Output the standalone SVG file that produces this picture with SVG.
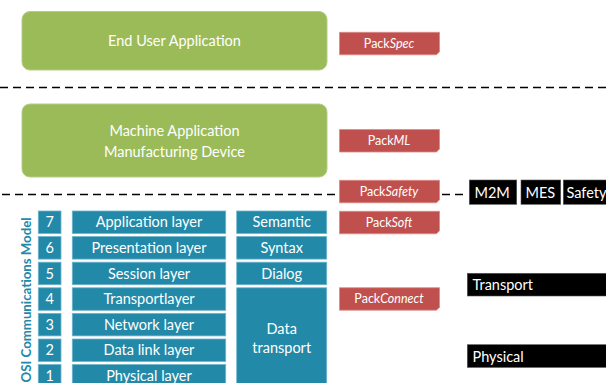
<svg xmlns="http://www.w3.org/2000/svg" width="606" height="383" viewBox="0 0 606 383">
<style>
.g{fill:#9BBB59;stroke:#B5CD85;stroke-width:1}
.gt{font-family:Lato,"Liberation Sans",sans-serif;font-size:14.5px;fill:#fff;text-anchor:middle}
.t{fill:#2389A8;stroke:#6DB3CB;stroke-width:0.8}
.tt{font-family:Lato,"Liberation Sans",sans-serif;font-size:14.5px;fill:#fff;text-anchor:middle}
.p{fill:#C0504D;stroke:#D98A88;stroke-width:0.8}
.pt{font-family:Lato,"Liberation Sans",sans-serif;font-size:12.5px;fill:#fff;text-anchor:middle}
.b{fill:#000;stroke:#555;stroke-width:0.6}
.bt{font-family:Lato,"Liberation Sans",sans-serif;font-size:14.5px;fill:#fff}
.d{stroke:#000;stroke-width:1.5;stroke-dasharray:8 5;fill:none}
</style>
<defs>
<path id="tag" d="M0,0 H100 V19.5 L97,22.5 H0 Z"/>
</defs>
<g id="connectors">
<line class="d" x1="0" y1="87.5" x2="606" y2="87.5"/>
<line class="d" x1="2" y1="194.5" x2="338" y2="194.5"/>
<line class="d" x1="442" y1="194.5" x2="468" y2="194.5" stroke-dasharray="1.5 3 6 3 6 5"/>
</g>
<g id="end-user-app">
<rect class="g" x="22" y="11.5" width="305" height="58.5" rx="8"/>
<text class="gt" x="174.5" y="46">End User Application</text>
</g>
<g id="machine-app">
<rect class="g" x="22" y="104" width="305" height="73" rx="8"/>
<text class="gt" x="174.5" y="136">Machine Application</text>
<text class="gt" x="174.5" y="156.5">Manufacturing Device</text>
</g>
<g id="packspec"><use href="#tag" class="p" x="339.5" y="32.3"/><text class="pt" x="389" y="47.8">Pack<tspan font-style="italic">Spec</tspan></text></g>
<g id="packml"><use href="#tag" class="p" x="339.5" y="129.5"/><text class="pt" x="389" y="145">Pack<tspan font-style="italic">ML</tspan></text></g>
<g id="packsafety"><use href="#tag" class="p" x="339.5" y="180.3"/><text class="pt" x="389" y="195.8">Pack<tspan font-style="italic">Safety</tspan></text></g>
<g id="packsoft"><use href="#tag" class="p" x="339.5" y="211.3"/><text class="pt" x="389" y="226.8">Pack<tspan font-style="italic">Soft</tspan></text></g>
<g id="packconnect"><use href="#tag" class="p" x="339.5" y="287.7"/><text class="pt" x="389" y="303.2">Pack<tspan font-style="italic">Connect</tspan></text></g>
<g id="m2m"><rect class="b" x="469.3" y="180" width="47.4" height="24.3"/><text class="bt" x="474.5" y="197.5">M2M</text></g>
<g id="mes"><rect class="b" x="521" y="180" width="39.7" height="24.3"/><text class="bt" x="525.5" y="197.5">MES</text></g>
<g id="safety"><rect class="b" x="563.3" y="180" width="50" height="24.3"/><text class="bt" x="566.5" y="197.5">Safety</text></g>
<g id="transport"><rect class="b" x="467.3" y="273.3" width="145" height="22.7"/><text class="bt" x="472.5" y="290">Transport</text></g>
<g id="physical"><rect class="b" x="467.3" y="344.7" width="145" height="22.7"/><text class="bt" x="472.5" y="361.5">Physical</text></g>
<g id="osi-label">
<text transform="translate(31,382.5) rotate(-90)" font-family="Lato,'Liberation Sans',sans-serif" font-size="13" font-weight="bold" fill="#2389A8" textLength="165" lengthAdjust="spacingAndGlyphs">OSI Communications Model</text>
</g>
<g id="layer7"><rect class="t" x="38.3" y="211" width="22.7" height="22.5"/><rect class="t" x="72.3" y="211" width="153.4" height="22.5"/><text class="tt" x="49.7" y="227.3">7</text><text class="tt" x="149" y="227.3">Application layer</text></g>
<g id="layer6"><rect class="t" x="38.3" y="236.6" width="22.7" height="22.5"/><rect class="t" x="72.3" y="236.6" width="153.4" height="22.5"/><text class="tt" x="49.7" y="252.9">6</text><text class="tt" x="149" y="252.9">Presentation layer</text></g>
<g id="layer5"><rect class="t" x="38.3" y="262.2" width="22.7" height="22.5"/><rect class="t" x="72.3" y="262.2" width="153.4" height="22.5"/><text class="tt" x="49.7" y="278.5">5</text><text class="tt" x="149" y="278.5">Session layer</text></g>
<g id="layer4"><rect class="t" x="38.3" y="287.8" width="22.7" height="22.5"/><rect class="t" x="72.3" y="287.8" width="153.4" height="22.5"/><text class="tt" x="49.7" y="304.1">4</text><text class="tt" x="149" y="304.1">Transportlayer</text></g>
<g id="layer3"><rect class="t" x="38.3" y="313.4" width="22.7" height="22.5"/><rect class="t" x="72.3" y="313.4" width="153.4" height="22.5"/><text class="tt" x="49.7" y="329.7">3</text><text class="tt" x="149" y="329.7">Network layer</text></g>
<g id="layer2"><rect class="t" x="38.3" y="339" width="22.7" height="22.5"/><rect class="t" x="72.3" y="339" width="153.4" height="22.5"/><text class="tt" x="49.7" y="355.3">2</text><text class="tt" x="149" y="355.3">Data link layer</text></g>
<g id="layer1"><rect class="t" x="38.3" y="364.6" width="22.7" height="22.5"/><rect class="t" x="72.3" y="364.6" width="153.4" height="22.5"/><text class="tt" x="49.7" y="380.9">1</text><text class="tt" x="149" y="380.9">Physical layer</text></g>
<g id="semantic"><rect class="t" x="236.7" y="211" width="90" height="22.5"/><text class="tt" x="281.7" y="227.3">Semantic</text></g>
<g id="syntax"><rect class="t" x="236.7" y="236.6" width="90" height="22.5"/><text class="tt" x="281.7" y="252.9">Syntax</text></g>
<g id="dialog"><rect class="t" x="236.7" y="262.2" width="90" height="22.5"/><text class="tt" x="281.7" y="278.5">Dialog</text></g>
<g id="data-transport"><rect class="t" x="236.7" y="287.8" width="90" height="100"/><text class="tt" x="281.7" y="334">Data</text><text class="tt" x="281.7" y="353">transport</text></g>
</svg>
